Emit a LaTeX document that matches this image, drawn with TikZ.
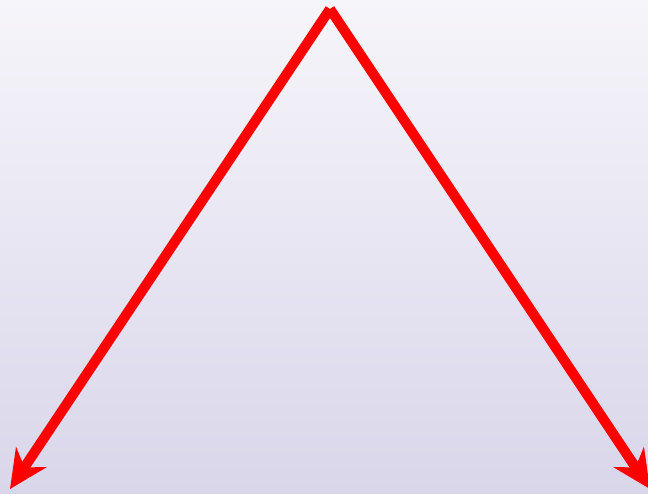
\documentclass[tikz,border=0pt]{standalone}
\usetikzlibrary{arrows.meta}
\definecolor{bgtop}{RGB}{246,245,250}
\definecolor{bgbot}{RGB}{217,214,234}
\begin{document}
\begin{tikzpicture}[x=1pt,y=1pt,
  arrowline/.style={draw=red, line width=10pt, -{Stealth[length=38pt,width=36pt,inset=12pt]}}]
\useasboundingbox (0,0) rectangle (648,493);
\clip (0,0) rectangle (648,493);
\shade[top color=bgtop, bottom color=bgbot] (0,0) rectangle (648,493);
\coordinate (apex) at (330,484);
\coordinate (left) at (10,4);
\coordinate (right) at (650,4);
\draw[arrowline] (apex) -- (left);
\draw[arrowline] (apex) -- (right);
\end{tikzpicture}
\end{document}
